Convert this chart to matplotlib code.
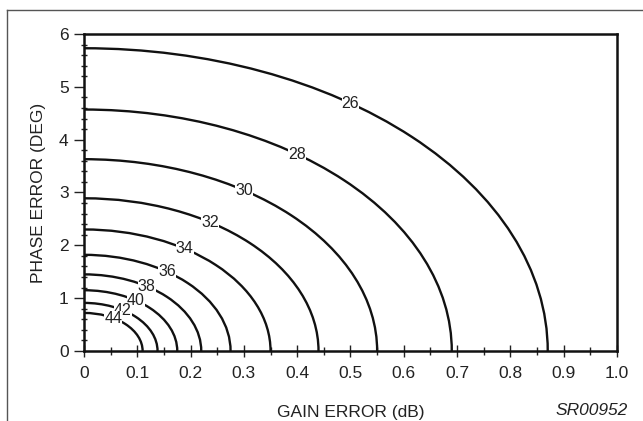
import numpy as np
import matplotlib
matplotlib.use("Agg")
import matplotlib.pyplot as plt
from matplotlib.patches import Arc
from matplotlib.lines import Line2D
from matplotlib.ticker import MultipleLocator

plt.rcParams['font.family'] = ['Liberation Sans', 'DejaVu Sans']

# image rejection levels (dB) and the axis intercepts of each curve
levels = [26, 28, 30, 32, 34, 36, 38, 40, 42, 44]
gain_at_zero_phase = [0.87, 0.69, 0.55, 0.44, 0.35, 0.275, 0.22, 0.175, 0.138, 0.11]
phase_at_zero_gain = [5.73, 4.57, 3.63, 2.89, 2.30, 1.82, 1.45, 1.15, 0.91, 0.72]
# x position of each inline label along its curve
label_x = [0.50, 0.40, 0.30, 0.236, 0.189, 0.156, 0.118, 0.097, 0.073, 0.055]

x_ticks = [0, 0.1, 0.2, 0.3, 0.4, 0.5, 0.6, 0.7, 0.8, 0.9, 1.0]
x_tick_labels = ['0', '0.1', '0.2', '0.3', '0.4', '0.5', '0.6', '0.7', '0.8', '0.9', '1.0']
y_ticks = [0, 1, 2, 3, 4, 5, 6]

FS = 12.5

fig = plt.figure(figsize=(6.43, 4.21), dpi=100)
ax = fig.add_axes([0.1306, 0.1663, 0.829, 0.7530])

for lev, a, b, lx in zip(levels, gain_at_zero_phase, phase_at_zero_gain, label_x):
    ax.add_patch(Arc((0, 0), 2 * a, 2 * b, theta1=0, theta2=90,
                     color='#111111', lw=1.7, zorder=2))
    # point on the quarter ellipse for the label
    ly = b * np.sqrt(max(0.0, 1 - (lx / a) ** 2))
    ax.text(lx, ly, str(lev), fontsize=11.5, ha='center', va='center',
            zorder=3, color='#222222',
            bbox=dict(boxstyle='square,pad=0.0', fc='white', ec='none'))

ax.set_xlim(0, 1.0)
ax.set_ylim(0, 6)
ax.set_xticks(x_ticks)
ax.set_xticklabels(x_tick_labels)
ax.set_yticks(y_ticks)
ax.xaxis.set_minor_locator(MultipleLocator(0.05))
ax.yaxis.set_minor_locator(MultipleLocator(0.2))

ax.tick_params(axis='x', which='major', direction='inout', length=8, width=1.0,
               labelsize=FS, pad=7, color='#222222', labelcolor='#222222')
ax.tick_params(axis='x', which='minor', direction='inout', length=6, width=1.0,
               color='#222222')
ax.tick_params(axis='y', which='major', direction='out', length=7, width=1.0,
               labelsize=FS, pad=4, color='#222222', labelcolor='#222222')
ax.tick_params(axis='y', which='minor', direction='inout', length=5, width=1.0,
               color='#222222')

for sp in ax.spines.values():
    sp.set_linewidth(1.8)
    sp.set_color('#111111')

ax.set_xlabel('GAIN ERROR (dB)', fontsize=FS, labelpad=17, color='#222222')
ax.set_ylabel('PHASE ERROR (DEG)', fontsize=FS, labelpad=9, color='#222222')

fig.text(0.977, 0.024, 'SR00952', fontsize=FS, style='italic', ha='right',
         va='center', color='#222222')

# partial outer frame (top and left edges)
fig.add_artist(Line2D([0.011, 1.0], [0.976, 0.976], color='#555555', lw=1.0))
fig.add_artist(Line2D([0.011, 0.011], [0.0, 0.976], color='#555555', lw=1.0))

fig.savefig('out.png', dpi=100)
